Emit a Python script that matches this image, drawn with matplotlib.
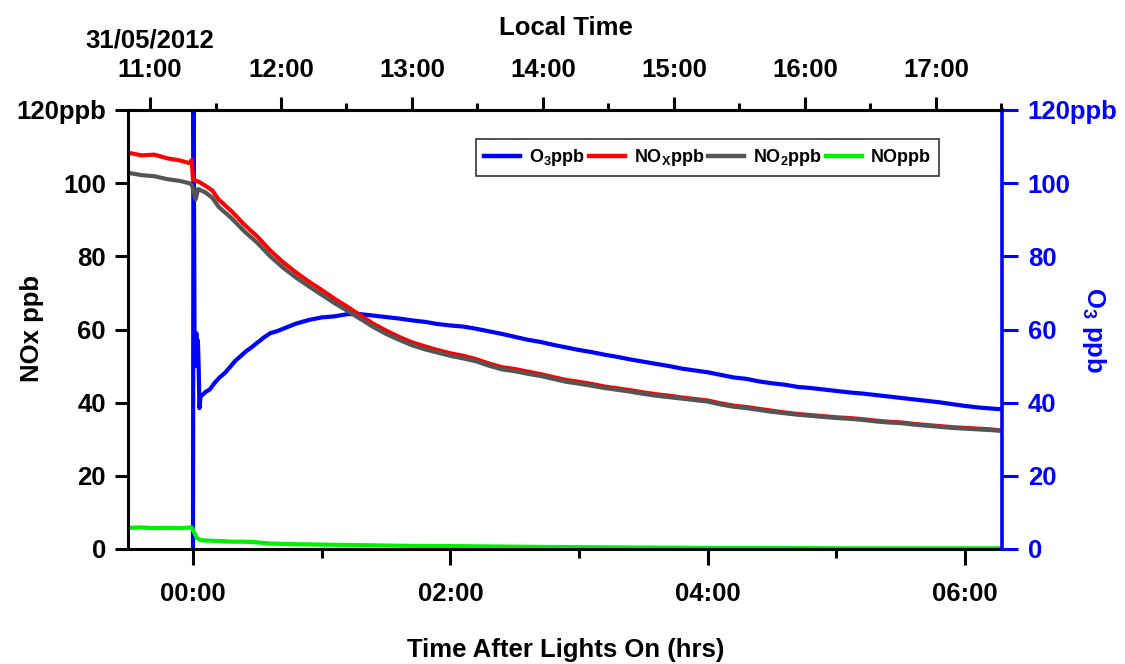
import matplotlib

matplotlib.use("Agg")
import matplotlib.pyplot as plt
from matplotlib.ticker import FixedLocator

plt.rcParams["font.family"] = ["Liberation Sans", "DejaVu Sans"]
plt.rcParams["font.weight"] = "bold"
plt.rcParams["mathtext.fontset"] = "custom"
plt.rcParams["mathtext.rm"] = "Liberation Sans:bold"
plt.rcParams["mathtext.default"] = "rm"

# hours after lights on
nox_t = [-0.5, -0.4, -0.3, -0.2, -0.1, -0.03, -0.01, 0.0, 0.05, 0.1, 0.15, 0.2, 0.3, 0.4,
         0.5, 0.6, 0.7, 0.8, 0.9, 1.0, 1.1, 1.2, 1.3, 1.4, 1.5, 1.6, 1.7, 1.8, 1.9, 2.0,
         2.1, 2.2, 2.3, 2.4, 2.5, 2.6, 2.7, 2.8, 2.9, 3.0, 3.1, 3.2, 3.3, 3.4, 3.5, 3.6,
         3.7, 3.8, 3.9, 4.0, 4.1, 4.2, 4.3, 4.4, 4.5, 4.6, 4.7, 4.8, 4.9, 5.0, 5.1, 5.2,
         5.3, 5.4, 5.5, 5.6, 5.7, 5.8, 5.9, 6.0, 6.1, 6.2, 6.28]
nox_ppb = [108.3, 107.6, 107.8, 106.8, 106.2, 105.5, 106.3, 101.0, 100.3, 99.2, 98.0, 95.5,
           92.3, 88.6, 85.4, 81.6, 78.4, 75.6, 73.1, 70.8, 68.4, 66.2, 63.9, 61.6, 59.7,
           58.0, 56.5, 55.4, 54.4, 53.5, 52.8, 51.9, 50.7, 49.7, 49.2, 48.5, 47.8, 47.0,
           46.2, 45.7, 45.1, 44.4, 43.9, 43.4, 42.8, 42.3, 41.9, 41.4, 41.0, 40.6, 39.8,
           39.2, 38.8, 38.3, 37.8, 37.3, 36.9, 36.6, 36.3, 36.0, 35.8, 35.5, 35.1, 34.8,
           34.6, 34.2, 33.9, 33.6, 33.3, 33.1, 32.9, 32.7, 32.4]

no2_t = [-0.5, -0.4, -0.3, -0.2, -0.1, -0.03, -0.01, 0.0, 0.02, 0.04, 0.1, 0.15, 0.2, 0.3,
         0.4, 0.5, 0.6, 0.7, 0.8, 0.9, 1.0, 1.1, 1.2, 1.3, 1.4, 1.5, 1.6, 1.7, 1.8, 1.9,
         2.0, 2.1, 2.2, 2.3, 2.4, 2.5, 2.6, 2.7, 2.8, 2.9, 3.0, 3.1, 3.2, 3.3, 3.4, 3.5,
         3.6, 3.7, 3.8, 3.9, 4.0, 4.1, 4.2, 4.3, 4.4, 4.5, 4.6, 4.7, 4.8, 4.9, 5.0, 5.1,
         5.2, 5.3, 5.4, 5.5, 5.6, 5.7, 5.8, 5.9, 6.0, 6.1, 6.2, 6.28]
no2_ppb = [102.8, 102.2, 101.9, 101.1, 100.6, 100.0, 99.6, 98.5, 95.5, 98.4, 97.4, 96.0,
           93.5, 90.4, 86.8, 83.7, 80.0, 76.9, 74.2, 71.8, 69.5, 67.2, 65.1, 62.9, 60.7,
           58.8, 57.2, 55.7, 54.6, 53.7, 52.8, 52.1, 51.3, 50.1, 49.1, 48.6, 47.9, 47.3,
           46.5, 45.7, 45.2, 44.6, 44.0, 43.5, 43.0, 42.4, 41.9, 41.5, 41.1, 40.7, 40.3,
           39.5, 38.9, 38.5, 38.0, 37.5, 37.1, 36.7, 36.4, 36.1, 35.8, 35.6, 35.3, 34.9,
           34.6, 34.4, 34.0, 33.7, 33.4, 33.1, 32.9, 32.7, 32.5, 32.3]

no_t = [-0.5, -0.4, -0.3, -0.2, -0.1, -0.01, 0.03, 0.06, 0.1, 0.2, 0.3, 0.4, 0.5, 0.6,
        0.7, 0.8, 1.0, 1.2, 1.4, 1.6, 1.8, 2.0, 2.3, 2.6, 3.0, 3.5, 4.0, 4.5, 5.0, 5.5,
        6.0, 6.28]
no_ppb = [5.8, 5.9, 5.7, 5.8, 5.7, 5.9, 3.0, 2.4, 2.3, 2.2, 2.0, 2.0, 1.8, 1.5, 1.4, 1.3,
          1.2, 1.1, 1.0, 0.9, 0.8, 0.8, 0.7, 0.6, 0.5, 0.4, 0.3, 0.3, 0.2, 0.2, 0.2, 0.2]

o3_t = [0.0, 0.004, 0.012, 0.02, 0.026, 0.032, 0.038, 0.044, 0.05, 0.058, 0.066, 0.08,
        0.1, 0.13, 0.17, 0.21, 0.25, 0.29, 0.33, 0.37, 0.41, 0.45, 0.5, 0.55, 0.6, 0.65,
        0.7, 0.8, 0.9, 1.0, 1.1, 1.2, 1.3, 1.4, 1.5, 1.6, 1.7, 1.8, 1.9, 2.0, 2.1, 2.2,
        2.3, 2.4, 2.5, 2.6, 2.7, 2.8, 2.9, 3.0, 3.1, 3.2, 3.3, 3.4, 3.5, 3.6, 3.7, 3.8,
        3.9, 4.0, 4.1, 4.2, 4.3, 4.4, 4.5, 4.6, 4.7, 4.8, 4.9, 5.0, 5.1, 5.2, 5.3, 5.4,
        5.5, 5.6, 5.7, 5.8, 5.9, 6.0, 6.1, 6.2, 6.28]
o3_ppb = [0.0, 130.0, 58.0, 50.0, 59.0, 52.0, 57.0, 50.0, 38.5, 41.5, 42.0, 42.3, 43.0,
          43.6, 45.5, 47.0, 48.2, 49.8, 51.5, 52.7, 54.0, 55.0, 56.4, 57.8, 59.0, 59.5,
          60.2, 61.6, 62.6, 63.3, 63.6, 64.2, 64.2, 63.8, 63.4, 63.0, 62.5, 62.1, 61.5,
          61.1, 60.8, 60.2, 59.5, 58.8, 58.0, 57.2, 56.6, 55.8, 55.1, 54.4, 53.8, 53.1,
          52.5, 51.8, 51.2, 50.6, 50.0, 49.3, 48.8, 48.3, 47.6, 46.9, 46.5, 45.8, 45.3,
          44.9, 44.3, 44.0, 43.6, 43.2, 42.8, 42.5, 42.1, 41.7, 41.3, 40.9, 40.5, 40.1,
          39.6, 39.1, 38.7, 38.4, 38.2]

bottom_ticks = [0, 2, 4, 6]
bottom_labels = ["00:00", "02:00", "04:00", "06:00"]
top_ticks = [11, 12, 13, 14, 15, 16, 17]
top_labels = ["11:00", "12:00", "13:00", "14:00", "15:00", "16:00", "17:00"]
y_ticks = [0, 20, 40, 60, 80, 100, 120]
y_labels = ["0", "20", "40", "60", "80", "100", "120ppb"]

W, H = 1125, 664
fig = plt.figure(figsize=(W / 100, H / 100), dpi=100)
ax = fig.add_axes([128 / W, 1 - 549 / H, (1002 - 128) / W, (549 - 110) / H])

lw = 3.0
ax.plot(o3_t, o3_ppb, color="#0000ff", lw=lw, label="O$_3$ppb")
ax.plot(nox_t, nox_ppb, color="#ff0000", lw=lw, label="NO$_X$ppb")
ax.plot(no2_t, no2_ppb, color="#555555", lw=lw, label="NO$_2$ppb")
ax.plot(no_t, no_ppb, color="#00ee00", lw=lw, label="NOppb")

ax.set_xlim(-0.505, 6.286)
ax.set_ylim(0, 120)
ax.set_xticks(bottom_ticks, bottom_labels)
ax.xaxis.set_minor_locator(FixedLocator([1, 3, 5]))
ax.set_yticks(y_ticks, y_labels)
ax.tick_params(axis="y", direction="out", length=9.4, width=2.2, pad=6.5, labelsize=18.5)
ax.tick_params(axis="x", which="major", direction="out", length=11.5, width=2.2, pad=12,
               labelsize=18.5)
ax.tick_params(axis="x", which="minor", direction="out", length=6.5, width=2.2)
for side in ("left", "bottom", "top"):
    ax.spines[side].set_linewidth(2.2)
ax.spines["right"].set_visible(False)

# right axis, same scale, blue
axr = ax.twinx()
axr.set_ylim(0, 120)
axr.set_yticks(y_ticks, y_labels)
axr.tick_params(axis="y", direction="out", length=11.5, width=2.2, pad=7, labelsize=18.5,
                color="#0000ff", labelcolor="#0000ff")
for side in ("left", "bottom", "top"):
    axr.spines[side].set_visible(False)
axr.spines["right"].set_color("#0000ff")
axr.spines["right"].set_linewidth(2.6)

# top axis, local time
axt = ax.twiny()
axt.set_xlim(10.832, 17.504)
axt.set_xticks(top_ticks, top_labels)
axt.xaxis.set_minor_locator(FixedLocator([11.5, 12.5, 13.5, 14.5, 15.5, 16.5, 17.5]))
axt.tick_params(axis="x", which="major", direction="out", length=9.4, width=2.2, pad=10.5,
                labelsize=18.5)
axt.tick_params(axis="x", which="minor", direction="out", length=5, width=2.2)
for side in ("left", "bottom", "right"):
    axt.spines[side].set_visible(False)
axt.spines["top"].set_linewidth(2.2)

fig.text(566 / W, 1 - 28 / H, "Local Time", ha="center", va="center", fontsize=18.5)
fig.text(150 / W, 1 - 41 / H, "31/05/2012", ha="center", va="center", fontsize=18.5)
fig.text(566 / W, 1 - 650 / H, "Time After Lights On (hrs)", ha="center", va="center",
         fontsize=18.5)
fig.text(32 / W, 1 - 329 / H, "NOx ppb", ha="center", va="center", rotation=90,
         fontsize=18.5)
fig.text(1094 / W, 1 - 330 / H, "O$_3$ ppb", ha="center", va="center", rotation=270,
         fontsize=18.5, color="#0000ff")

leg = ax.legend(loc="upper left", bbox_to_anchor=(476 / W, 1 - 139 / H),
                bbox_transform=fig.transFigure, ncol=4, fontsize=13, frameon=True,
                fancybox=False, borderaxespad=0, handlelength=2.0, handletextpad=0.5,
                columnspacing=0.2, borderpad=0.45)
leg.get_frame().set_edgecolor("black")
leg.get_frame().set_linewidth(1.2)
for line in leg.get_lines():
    line.set_linewidth(3.2)

fig.savefig("out.png", dpi=100)
